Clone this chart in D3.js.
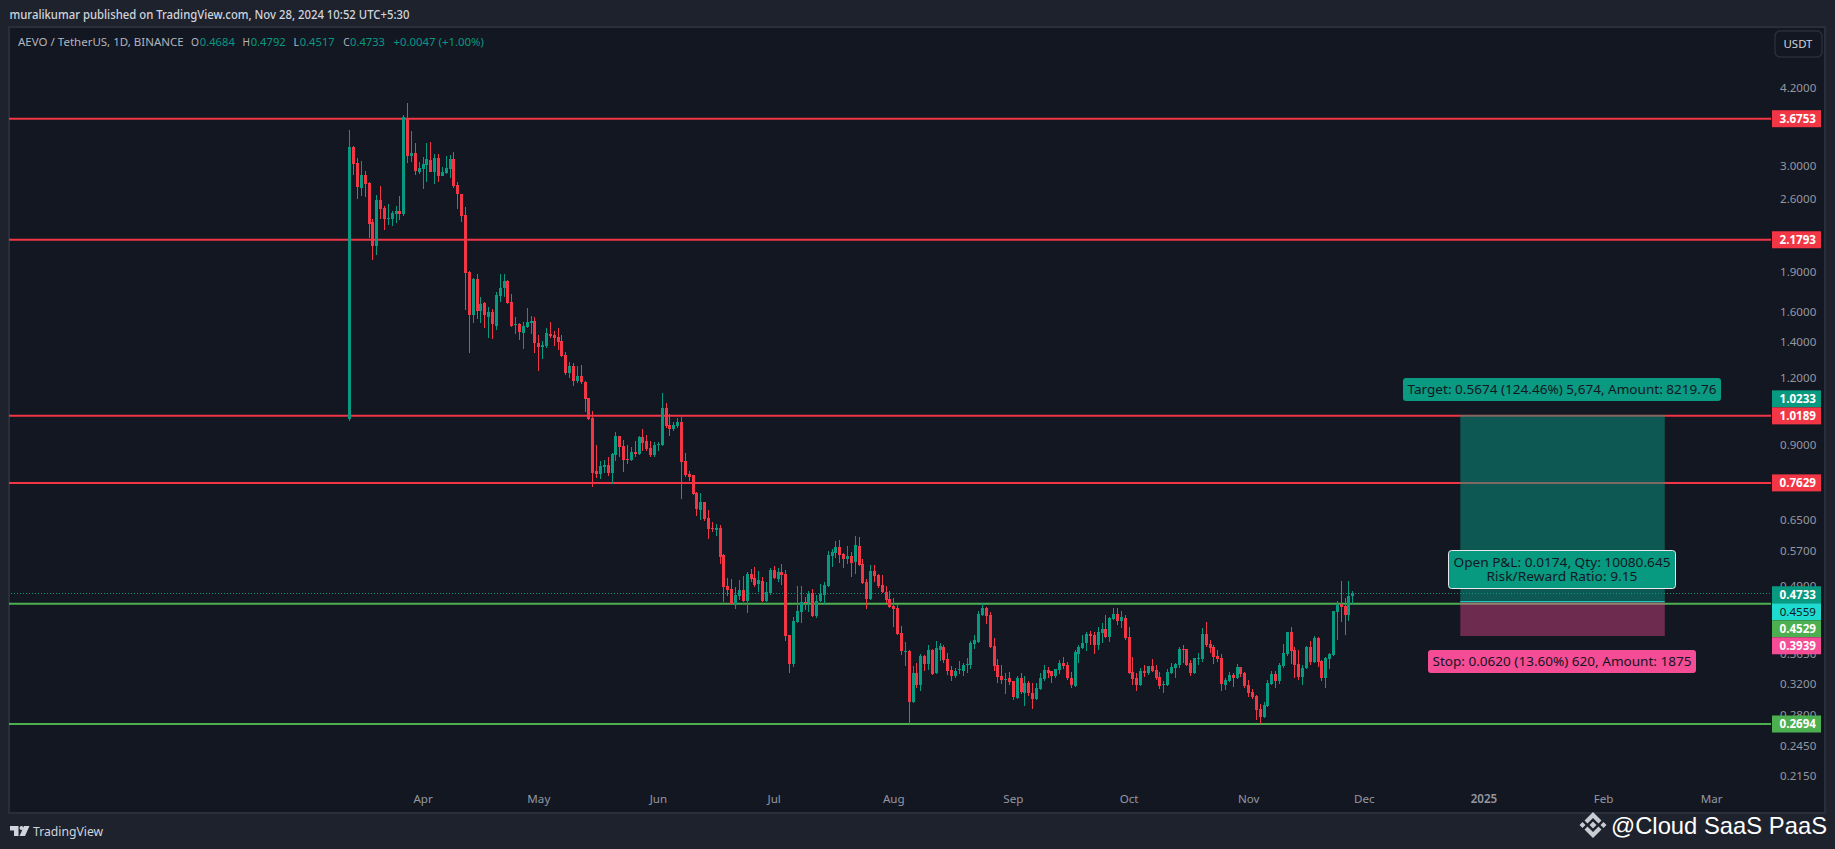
<!DOCTYPE html>
<html lang="en">
<head>
    <meta charset="UTF-8">
    <title>AEVO / TetherUS</title>
    <script src="https://cdn.jsdelivr.net/npm/d3@7"></script>
    <style>
        html, body { margin: 0; padding: 0; background: #1e222d; }
        svg { display: block; font-family: "Noto Sans", sans-serif; }
    </style>
</head>
<body>

<script>
    // daily candles, first one is 13 Mar 2024, last one is 28 Nov 2024
    const firstDay = "2024-03-13";

    const open = [
        1.005,3.252,3.035,2.724,2.882,2.784,2.352,2.120,2.587,2.499,
        2.383,2.383,2.435,2.467,2.435,3.686,3.128,3.169,2.920,2.957,
        3.009,3.075,2.920,3.101,2.870,2.907,2.957,3.088,2.760,2.655,
        2.424,1.895,1.574,1.839,1.601,1.658,1.561,1.594,1.501,1.708,
        1.768,1.823,1.665,1.507,1.514,1.456,1.495,1.520,1.534,1.395,
        1.371,1.377,1.449,1.443,1.431,1.407,1.325,1.225,1.263,1.184,
        1.209,1.179,1.100,1.009,.8023,.7920,.8162,.8233,.7954,.8597,
        .9335,.8937,.8449,.8413,.8709,.8635,.9295,.9133,.8860,.8597,
        .8976,.8976,1.053,.9786,.9618,.9744,.9914,.8377,.7920,.7886,
        .7296,.6779,.7017,.6549,.6271,.6218,.6271,.5581,.4882,.4819,
        .4516,.4675,.4798,.4575,.5141,.5053,.4924,.4988,.4575,.4736,
        .5231,.5032,.5186,.5141,.3951,.3486,.4179,.4363,.4556,.4536,
        .4736,.4291,.4575,.4695,.4882,.5557,.5630,.5778,.5605,.5485,
        .5557,.5415,.5803,.5369,.4967,.4615,.5208,.5119,.4903,.4757,
        .4615,.4477,.4439,.3985,.3671,.3687,.2957,.3352,.3183,.3608,
        .3486,.3703,.3352,.3703,.3752,.3562,.3396,.3309,.3396,.3381,
        .3470,.3470,.3800,.3833,.4307,.4439,.4307,.3768,.3470,.3309,
        .3253,.3281,.3239,.3011,.3281,.3075,.3211,.3075,.2997,.3129,
        .3267,.3396,.3381,.3309,.3396,.3500,.3470,.3281,.3169,.3640,
        .3736,.3817,.3968,.3951,.3783,.3985,.4055,.3918,.4233,.4326,
        .4197,.4252,.3918,.3367,.3281,.3183,.3381,.3352,.3455,.3396,
        .3295,.3183,.3183,.3352,.3425,.3470,.3720,.3720,.3500,.3352,
        .3562,.3562,.3968,.3800,.3752,.3608,.3577,.3183,.3239,.3323,
        .3281,.3440,.3352,.3183,.3088,.3035,.2869,.2773,.2907,.3197,
        .3338,.3239,.3455,.3640,.4002,.3703,.3486,.3295,.3425,.3752,
        .3515,.3898,.3531,.3281,.3562,.3623,.4363,.4516,.4477,.4307,
        .4684
    ];
    const high = [
        3.50,3.26,3.098,3.062,2.932,2.796,2.383,2.643,2.748,2.521,
        2.543,2.467,2.521,2.632,3.734,3.933,3.485,3.309,3.049,3.115,
        3.309,3.323,3.155,3.155,2.983,3.128,3.141,3.183,2.796,2.655,
        2.510,1.904,1.847,1.879,1.701,1.665,1.629,1.615,1.738,1.879,
        1.879,1.831,1.723,1.561,1.520,1.527,1.622,1.567,1.561,1.443,
        1.407,1.488,1.527,1.469,1.488,1.443,1.341,1.285,1.279,1.263,
        1.269,1.184,1.100,1.040,.8976,.8377,.8413,.8523,.8671,.9495,
        .9335,.9172,.8976,.8899,.9133,.9335,.9618,.9375,.9133,.9094,
        .9094,1.124,1.076,1.026,.9914,1.009,1.013,.8671,.8023,.7886,
        .7327,.7296,.7017,.6779,.6436,.6381,.6354,.5605,.5055,.5032,
        .4861,.5010,.5097,.5186,.5253,.5299,.5208,.5075,.4967,.5275,
        .5321,.5275,.5369,.5231,.3951,.4270,.4882,.4882,.4654,.4777,
        .4819,.4695,.4924,.4967,.5678,.5727,.5929,.5955,.5630,.5803,
        .5654,.6059,.6033,.5485,.5032,.5345,.5345,.5141,.5119,.4882,
        .4777,.4635,.4497,.4107,.3833,.3703,.3455,.3500,.3640,.3623,
        .3783,.3720,.3849,.3817,.3783,.3655,.3455,.3425,.3531,.3500,
        .3577,.3849,.3951,.4382,.4536,.4458,.4363,.3898,.3562,.3470,
        .3352,.3367,.3239,.3309,.3352,.3309,.3239,.3211,.3211,.3352,
        .3470,.3440,.3381,.3410,.3546,.3592,.3515,.3367,.3703,.3783,
        .3951,.4002,.4020,.4002,.4090,.4161,.4307,.4270,.4439,.4439,
        .4382,.4307,.4090,.3592,.3352,.3425,.3470,.3455,.3562,.3470,
        .3367,.3239,.3410,.3500,.3500,.3752,.3783,.3720,.3546,.3577,
        .3655,.4072,.4179,.3866,.3783,.3703,.3640,.3281,.3367,.3352,
        .3486,.3440,.3367,.3253,.3129,.3050,.2932,.2957,.3253,.3381,
        .3381,.3500,.3800,.4002,.4090,.3752,.3703,.3470,.3768,.3849,
        .3935,.3918,.3546,.3592,.3655,.4382,.4575,.4988,.4635,.4988,
        .4792
    ];
    const low = [
        .995,2.882,2.598,2.632,2.621,2.195,1.996,2.040,2.383,2.272,
        2.322,2.312,2.342,2.373,2.414,3.035,3.049,2.882,2.895,2.712,
        2.796,2.915,2.772,2.796,2.870,2.900,2.845,2.724,2.487,2.352,
        1.608,1.336,1.520,1.547,1.520,1.488,1.425,1.419,1.475,1.665,
        1.701,1.651,1.495,1.449,1.413,1.359,1.488,1.449,1.336,1.236,
        1.302,1.365,1.425,1.377,1.353,1.313,1.214,1.199,1.158,1.174,
        1.169,1.035,1.000,.7487,.7785,.7750,.7954,.7852,.7585,.8377,
        .8523,.7989,.8270,.8400,.8523,.8620,.8747,.8747,.8523,.8523,
        .8747,.8950,.9660,.9335,.9536,.9660,.7108,.7818,.7684,.7233,
        .6605,.6492,.6464,.5980,.6165,.6059,.5369,.4556,.4675,.4510,
        .4420,.4595,.4556,.4344,.4967,.4861,.4757,.4556,.4565,.4695,
        .5032,.4967,.4903,.3849,.3352,.3440,.4161,.4161,.4401,.4363,
        .4270,.4252,.4565,.4516,.4870,.5299,.5509,.5392,.5275,.5369,
        .5075,.5141,.5340,.4935,.4420,.4595,.4967,.4840,.4736,.4536,
        .4450,.4090,.3951,.3623,.3455,.2690,.2950,.3142,.3102,.3381,
        .3396,.3323,.3345,.3531,.3500,.3323,.3239,.3281,.3338,.3309,
        .3352,.3410,.3720,.3825,.4300,.4143,.3745,.3381,.3211,.3197,
        .3062,.3183,.2983,.3005,.3062,.2907,.3035,.2869,.2983,.3120,
        .3239,.3281,.3211,.3281,.3338,.3410,.3253,.3142,.3156,.3500,
        .3730,.3687,.3783,.3640,.3703,.3817,.3910,.3833,.4215,.4125,
        .4072,.3866,.3338,.3183,.3102,.3169,.3295,.3323,.3375,.3253,
        .3129,.3075,.3169,.3345,.3281,.3425,.3500,.3465,.3309,.3345,
        .3470,.3515,.3752,.3655,.3486,.3515,.3102,.3115,.3230,.3156,
        .3275,.3295,.3142,.3024,.2997,.2737,.2690,.2765,.2900,.3190,
        .3142,.3197,.3425,.3608,.3486,.3281,.3253,.3183,.3410,.3470,
        .3500,.3440,.3239,.3142,.3410,.3615,.3866,.4179,.3951,.4197,
        .4517
    ];
    const close = [
        3.252,3.022,2.736,2.882,2.772,2.332,2.120,2.587,2.487,2.383,
        2.392,2.445,2.467,2.435,3.702,3.128,3.169,2.932,2.970,3.022,
        3.088,2.920,3.101,2.870,2.920,2.970,3.088,2.748,2.655,2.414,
        1.887,1.574,1.839,1.601,1.651,1.574,1.594,1.514,1.716,1.768,
        1.823,1.658,1.501,1.514,1.462,1.501,1.527,1.534,1.395,1.371,
        1.383,1.456,1.437,1.425,1.401,1.319,1.225,1.263,1.184,1.209,
        1.179,1.095,1.004,.7954,.7920,.8198,.8233,.7954,.8635,.9335,
        .8899,.8413,.8413,.8709,.8635,.9295,.9054,.8823,.8597,.8976,
        .9015,1.053,.9744,.9618,.9786,.9914,.8341,.7886,.7818,.7265,
        .6808,.7017,.6520,.6245,.6245,.6271,.5533,.4861,.4798,.4516,
        .4695,.4798,.4575,.5141,.5032,.4903,.5010,.4575,.4757,.5231,
        .5053,.5186,.5119,.3935,.3486,.4197,.4382,.4556,.4536,.4716,
        .4291,.4575,.4716,.4903,.5581,.5654,.5778,.5581,.5485,.5557,
        .5392,.5827,.5345,.4945,.4615,.5208,.5097,.4882,.4757,.4595,
        .4458,.4420,.3968,.3687,.3687,.2957,.3352,.3183,.3608,.3486,
        .3703,.3338,.3736,.3768,.3546,.3381,.3309,.3381,.3410,.3470,
        .3486,.3817,.3866,.4326,.4439,.4291,.3752,.3455,.3295,.3253,
        .3267,.3225,.3024,.3281,.3088,.3211,.3075,.2997,.3142,.3281,
        .3396,.3352,.3309,.3410,.3500,.3455,.3281,.3183,.3671,.3752,
        .3817,.3968,.3935,.3783,.4002,.4055,.3918,.4252,.4326,.4197,
        .4270,.3898,.3352,.3267,.3183,.3381,.3352,.3455,.3381,.3281,
        .3169,.3197,.3367,.3440,.3486,.3720,.3703,.3470,.3352,.3577,
        .3577,.3968,.3783,.3736,.3592,.3562,.3197,.3253,.3323,.3281,
        .3440,.3338,.3169,.3075,.3024,.2857,.2773,.2920,.3211,.3338,
        .3239,.3470,.3655,.4002,.3687,.3470,.3295,.3425,.3752,.3515,
        .3898,.3515,.3281,.3577,.3640,.4382,.4516,.4458,.4307,.4675,
        .4733
    ];

    // axis labels
    const priceTicks = [4.2, 3, 2.6, 1.9, 1.6, 1.4, 1.2, 0.9, 0.65, 0.57, 0.49, 0.365, 0.32, 0.28, 0.245, 0.215];
    const timeTicks = ["2024-04-01", "2024-05-01", "2024-06-01", "2024-07-01", "2024-08-01", "2024-09-01",
        "2024-10-01", "2024-11-01", "2024-12-01", "2025-01-01", "2025-02-01", "2025-03-01"];
    const timeLabels = ["Apr", "May", "Jun", "Jul", "Aug", "Sep", "Oct", "Nov", "Dec", "2025", "Feb", "Mar"];

    // horizontal levels drawn on the chart
    const redLevels = [3.6753, 2.1793, 1.0189, 0.7629];
    const greenLevels = [0.4529, 0.2694];
    const lastPrice = 0.4733;

    // long position tool
    const targetPrice = 1.0233;
    const entryPrice = 0.4559;
    const stopPrice = 0.3939;
    const toolStart = "2024-12-26";
    const toolEnd = "2025-02-17";

    const legendValues = ["0.4684", "0.4792", "0.4517", "0.4733"];
    const legendKeys = ["O", "H", "L", "C"];

    const up = "#089981", down = "#f23645", green = "#4caf50", teal = "#1edbd0", pink = "#f54c96";

    var w = 1835, h = 849;
    var plotL = 9, plotR = 1771, plotT = 27, plotB = 813;

    var parseDay = d3.utcParse("%Y-%m-%d");
    var days = open.map(function (d, i) {
        return d3.utcDay.offset(parseDay(firstDay), i);
    });

    var xScale = d3.scaleUtc()
        .domain([days[0], days[days.length - 1]])
        .range([349.3, 1352.3]);

    // log price scale, pinned on two of the levels
    var yScale = d3.scaleLog()
        .domain([3.6753, 0.2694])
        .range([118.7, 724]);

    var svg = d3.select("body")
        .append("svg")
        .attr("width", w)
        .attr("height", h);

    svg.append("rect")
        .attr("width", w)
        .attr("height", h)
        .attr("fill", "#1e222d");

    svg.append("rect")
        .attr("x", plotL)
        .attr("y", plotT)
        .attr("width", 1816)
        .attr("height", plotB - plotT)
        .attr("fill", "#131722")
        .attr("stroke", "#2a2e39")
        .attr("stroke-width", 2);

    // header
    svg.append("text")
        .attr("x", 9.5)
        .attr("y", 19)
        .attr("fill", "#d1d4dc")
        .attr("font-size", 11.7)
        .attr("font-weight", 500)
        .attr("textLength", 400)
        .attr("lengthAdjust", "spacingAndGlyphs")
        .text("muralikumar published on TradingView.com, Nov 28, 2024 10:52 UTC+5:30");

    // legend
    var legend = svg.append("g")
        .attr("font-size", 11.6);
    function legendText(x, fill, t, len) {
        legend.append("text")
            .attr("x", x)
            .attr("y", 46)
            .attr("fill", fill)
            .attr("textLength", len)
            .attr("lengthAdjust", "spacingAndGlyphs")
            .text(t);
    }
    legendText(18, "#b2b5be", "AEVO / TetherUS, 1D, BINANCE", 165.7);
    var keyX = [191, 242.6, 293.5, 343.3];
    var valueX = [199.8, 250.7, 299.7, 350];
    var keyLen = [8, 7.5, 5.5, 6.5];
    legendKeys.forEach(function (k, i) {
        legendText(keyX[i], "#b2b5be", k, keyLen[i]);
        legendText(valueX[i], up, legendValues[i], 35);
    });
    legendText(393.4, up, "+0.0047 (+1.00%)", 90.6);

    // levels
    var levelData = redLevels.map(function (d) { return {v: d, c: down}; })
        .concat(greenLevels.map(function (d) { return {v: d, c: green}; }));
    svg.append("g").selectAll("line")
        .data(levelData)
        .enter()
        .append("line")
        .attr("x1", plotL)
        .attr("x2", plotR)
        .attr("y1", function (d) { return yScale(d.v); })
        .attr("y2", function (d) { return yScale(d.v); })
        .attr("stroke", function (d) { return d.c; })
        .attr("stroke-width", 2);

    // last price
    svg.append("line")
        .attr("x1", 11)
        .attr("x2", plotR)
        .attr("y1", Math.round(yScale(lastPrice)) + 0.5)
        .attr("y2", Math.round(yScale(lastPrice)) + 0.5)
        .attr("stroke", up)
        .attr("stroke-dasharray", "1,2");

    // candles
    var candles = svg.append("g")
        .attr("shape-rendering", "crispEdges")
        .selectAll("g")
        .data(days)
        .enter()
        .append("g")
        .attr("fill", function (d, i) { return close[i] >= open[i] ? up : down; });

    candles.append("rect")
        .attr("x", function (d) { return Math.round(xScale(d)); })
        .attr("width", 1)
        .attr("y", function (d, i) { return yScale(high[i]); })
        .attr("height", function (d, i) { return yScale(low[i]) - yScale(high[i]); });

    candles.append("rect")
        .attr("x", function (d) { return Math.round(xScale(d)) - 1; })
        .attr("width", 3)
        .attr("y", function (d, i) { return yScale(Math.max(open[i], close[i])); })
        .attr("height", function (d, i) {
            return Math.max(1, yScale(Math.min(open[i], close[i])) - yScale(Math.max(open[i], close[i])));
        });

    // position tool
    var toolX0 = xScale(parseDay(toolStart)), toolX1 = xScale(parseDay(toolEnd));
    svg.append("rect")
        .attr("x", toolX0)
        .attr("width", toolX1 - toolX0)
        .attr("y", yScale(targetPrice))
        .attr("height", yScale(entryPrice) - yScale(targetPrice))
        .attr("fill", up)
        .attr("fill-opacity", 0.5);
    svg.append("rect")
        .attr("x", toolX0)
        .attr("width", toolX1 - toolX0)
        .attr("y", yScale(entryPrice))
        .attr("height", yScale(stopPrice) - yScale(entryPrice))
        .attr("fill", pink)
        .attr("fill-opacity", 0.4);
    svg.append("line")
        .attr("x1", toolX0)
        .attr("x2", toolX1)
        .attr("y1", yScale(entryPrice) - 0.5)
        .attr("y2", yScale(entryPrice) - 0.5)
        .attr("stroke", teal);

    function toolLabel(x, y, bw, bh, fill, lines, lens, stroke) {
        svg.append("rect")
            .attr("x", x)
            .attr("y", y)
            .attr("width", bw)
            .attr("height", bh)
            .attr("rx", 3)
            .attr("fill", fill)
            .attr("stroke", stroke || "none");
        lines.forEach(function (t, i) {
            svg.append("text")
                .attr("x", x + bw / 2)
                .attr("y", y + 16 + i * 14)
                .attr("text-anchor", "middle")
                .attr("fill", "#131722")
                .attr("font-size", 13.4)
                .attr("textLength", lens[i])
                .attr("lengthAdjust", "spacingAndGlyphs")
                .text(t);
        });
    }
    toolLabel(1403, 378, 318, 23, "#0a9981", ["Target: 0.5674 (124.46%) 5,674, Amount: 8219.76"], [309]);
    toolLabel(1448.5, 550.5, 227, 38, "#089981", ["Open P&L: 0.0174, Qty: 10080.645", "Risk/Reward Ratio: 9.15"], [217, 151], "#e8e8ea");
    toolLabel(1428, 650, 268, 23, pink, ["Stop: 0.0620 (13.60%) 620, Amount: 1875"], [259]);

    // price axis
    var yAxis = d3.axisRight(yScale)
        .tickValues(priceTicks)
        .tickSize(0)
        .tickPadding(0)
        .tickFormat(d3.format(".4f"));
    var yAxisG = svg.append("g")
        .attr("transform", "translate(1780,0)")
        .call(yAxis);
    yAxisG.select(".domain").remove();
    yAxisG.selectAll("text")
        .attr("fill", "#9598a1")
        .attr("font-size", 11.6)
        .attr("font-family", '"Noto Sans", sans-serif');

    // time axis
    var xAxis = d3.axisBottom(xScale)
        .tickValues(timeTicks.map(parseDay))
        .tickSize(0)
        .tickPadding(0)
        .tickFormat(function (d, i) { return timeLabels[i]; });
    var xAxisG = svg.append("g")
        .attr("transform", "translate(0,795)")
        .call(xAxis);
    xAxisG.select(".domain").remove();
    xAxisG.selectAll("text")
        .attr("fill", "#9598a1")
        .attr("font-size", 11.6)
        .attr("font-family", '"Noto Sans", sans-serif')
        .attr("font-weight", function (d, i) { return timeLabels[i] === "2025" ? 600 : 400; });

    // price labels, the ones that touch get stacked
    var labelH = 17;
    var priceLabels = [
        {v: 3.6753, fill: down, text: "#ffffff"},
        {v: 2.1793, fill: down, text: "#ffffff"},
        {v: targetPrice, fill: up, text: "#ffffff"},
        {v: 1.0189, fill: down, text: "#ffffff"},
        {v: 0.7629, fill: down, text: "#ffffff"},
        {v: lastPrice, fill: up, text: "#ffffff"},
        {v: entryPrice, fill: teal, text: "#131722"},
        {v: 0.4529, fill: green, text: "#ffffff"},
        {v: stopPrice, fill: pink, text: "#ffffff"},
        {v: 0.2694, fill: green, text: "#ffffff"}
    ];
    priceLabels.forEach(function (d, i) {
        d.y = yScale(d.v);
        if (d.v === targetPrice) d.y = yScale(1.0189) - labelH;
        if (d.v === lastPrice) d.y = d.y + 1.3;
        if (i > 0 && d.v < 0.46 && d.y < priceLabels[i - 1].y + labelH) d.y = priceLabels[i - 1].y + labelH;
    });
    var labelG = svg.append("g").selectAll("g")
        .data(priceLabels)
        .enter()
        .append("g")
        .attr("transform", function (d) { return "translate(1772," + d.y + ")"; });
    labelG.append("rect")
        .attr("y", -labelH / 2)
        .attr("width", 49)
        .attr("height", labelH)
        .attr("fill", function (d) { return d.fill; });
    labelG.append("text")
        .attr("x", 44)
        .attr("y", 4)
        .attr("text-anchor", "end")
        .attr("font-size", 11.6)
        .attr("font-weight", function (d) { return d.v === entryPrice ? 400 : 700; })
        .attr("fill", function (d) { return d.text; })
        .text(function (d) { return d3.format(".4f")(d.v); });

    // currency button
    svg.append("rect")
        .attr("x", 1775)
        .attr("y", 31)
        .attr("width", 47)
        .attr("height", 26)
        .attr("rx", 5)
        .attr("fill", "#131722")
        .attr("stroke", "#2a2e39")
        .attr("stroke-width", 1.5);
    svg.append("text")
        .attr("x", 1798)
        .attr("y", 48)
        .attr("text-anchor", "middle")
        .attr("fill", "#d1d4dc")
        .attr("font-size", 11.4)
        .text("USDT");

    // TradingView logo
    var tvLogo = svg.append("g").attr("fill", "#d1d4dc");
    tvLogo.append("path").attr("d", "M10 826H18.5V836H14V830.5H10Z");
    tvLogo.append("circle").attr("cx", 21.5).attr("cy", 828).attr("r", 2);
    tvLogo.append("path").attr("d", "M24 826H29.5L25 836H19.5Z");
    svg.append("text")
        .attr("x", 33)
        .attr("y", 836)
        .attr("fill", "#d1d4dc")
        .attr("font-size", 12.2)
        .text("TradingView");

    // watermark
    var coin = svg.append("g")
        .attr("transform", "translate(1593,825)")
        .attr("fill", "#c9ccd3");
    coin.append("path").attr("d", "M0,-13L8.5,-4.5L5.5,-1.5L0,-7L-5.5,-1.5L-8.5,-4.5Z");
    coin.append("path").attr("d", "M0,13L8.5,4.5L5.5,1.5L0,7L-5.5,1.5L-8.5,4.5Z");
    coin.append("path").attr("d", "M0,-3.5L3.5,0L0,3.5L-3.5,0Z");
    coin.append("path").attr("d", "M-10.5,-3L-7.5,0L-10.5,3L-13.5,0Z");
    coin.append("path").attr("d", "M10.5,-3L13.5,0L10.5,3L7.5,0Z");
    svg.append("text")
        .attr("x", 1611)
        .attr("y", 834)
        .attr("fill", "#ffffff")
        .attr("font-family", '"Liberation Sans", sans-serif')
        .attr("font-size", 24)
        .attr("textLength", 216)
        .attr("lengthAdjust", "spacingAndGlyphs")
        .text("@Cloud SaaS PaaS");
</script>

</body>
</html>
